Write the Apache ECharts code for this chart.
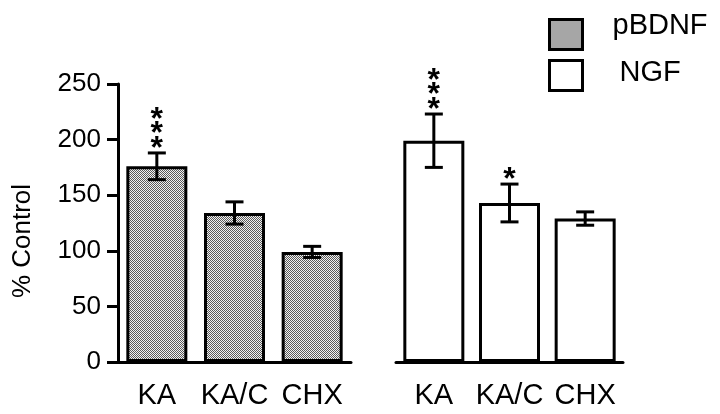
<!DOCTYPE html>
<html>
<head>
<meta charset="utf-8">
<script src="https://cdn.jsdelivr.net/npm/echarts@6/dist/echarts.min.js"></script>
<style>html,body{margin:0;padding:0;background:#fff;}#chart{width:720px;height:414px;}</style>
</head>
<body>
<div id="chart"></div>
<script>
const categories = ['KA', 'KA/C', 'CHX'];
const pbdnfValues = [176, 134, 99];
const pbdnfErrors = [12, 10, 5];
const ngfValues = [199, 143, 129];
const ngfErrors = [24, 17, 6];
const pbdnfStars = [3, 0, 0];
const ngfStars = [3, 1, 0];
const yMin = 0, yMax = 250, yStep = 50;

const FONT = "'Liberation Sans', Arial, Helvetica, sans-serif";

// stipple pattern
const pc = document.createElement('canvas');
pc.width = 2; pc.height = 2;
const pctx = pc.getContext('2d');
pctx.fillStyle = '#f2f2f2'; pctx.fillRect(0, 0, 2, 2);
pctx.fillStyle = '#5a5a5a'; pctx.fillRect(0, 0, 1, 1); pctx.fillRect(1, 1, 1, 1);
const stipple = { image: pc, repeat: 'repeat' };

function errData(vals, errs) { return vals.map((v, i) => [i, v - errs[i], v + errs[i]]); }
function starData(vals, errs, stars) { return vals.map((v, i) => [i, v + errs[i], stars[i]]); }

function renderErr(params, api) {
  const x = api.value(0);
  const lo = api.coord([x, api.value(1)]);
  const hi = api.coord([x, api.value(2)]);
  const h = 9;
  const st = { stroke: '#000', lineWidth: 3 };
  return { type: 'group', children: [
    { type: 'line', shape: { x1: lo[0], y1: lo[1], x2: hi[0], y2: hi[1] }, style: st },
    { type: 'line', shape: { x1: hi[0] - h, y1: hi[1], x2: hi[0] + h, y2: hi[1] }, style: st },
    { type: 'line', shape: { x1: lo[0] - h, y1: lo[1], x2: lo[0] + h, y2: lo[1] }, style: st }
  ]};
}
function renderStars(params, api) {
  const x = api.value(0);
  const p = api.coord([x, api.value(1)]);
  const n = api.value(2);
  const children = [];
  for (let k = 0; k < n; k++) {
    children.push({ type: 'text', x: p[0], y: p[1] - 11 - 14.5 * k + 7,
      style: { text: '*', font: 'bold 32px ' + FONT, align: 'center', verticalAlign: 'middle', fill: '#000' } });
  }
  return { type: 'group', children };
}

const xAxisBase = {
  type: 'category', data: categories, boundaryGap: true,
  axisLine: { lineStyle: { color: '#000', width: 3 } },
  axisTick: { alignWithLabel: true, length: 13, lineStyle: { color: '#000', width: 3 } },
  axisLabel: { color: '#000', fontSize: 29, fontFamily: FONT, margin: 19, interval: 0, hideOverlap: false }
};

const legendBase = {
  orient: 'vertical', left: 548, padding: 0, selectedMode: false,
  icon: 'rect', itemWidth: 33, itemHeight: 30,
  itemStyle: { borderColor: '#000', borderWidth: 3 }
};

const option = {
  animation: false,
  backgroundColor: '#fff',
  textStyle: { fontFamily: FONT },
  legend: [
    Object.assign({}, legendBase, { data: ['pBDNF'], top: 11, formatter: '{name}\n ',
      textStyle: { color: '#000', fontSize: 29, fontFamily: FONT, lineHeight: 18, padding: [0, 0, 0, 25] } }),
    Object.assign({}, legendBase, { data: ['NGF'], top: 58, formatter: '{name}\n ',
      textStyle: { color: '#000', fontSize: 29, fontFamily: FONT, lineHeight: 6, padding: [0, 0, 0, 32] } })
  ],
  grid: [
    { left: 118, right: 369, top: 84, bottom: 52 },
    { left: 396, right: 97, top: 84, bottom: 52 }
  ],
  xAxis: [
    Object.assign({ gridIndex: 0 }, xAxisBase),
    Object.assign({ gridIndex: 1 }, xAxisBase)
  ],
  yAxis: [
    { gridIndex: 0, type: 'value', min: yMin, max: yMax, interval: yStep,
      name: '% Control', nameLocation: 'middle', nameGap: 82,
      nameTextStyle: { color: '#000', fontSize: 26, fontFamily: FONT, padding: [0, 36, 0, 0] },
      axisLine: { show: true, lineStyle: { color: '#000', width: 3 } },
      axisTick: { show: true, length: 11, lineStyle: { color: '#000', width: 3 } },
      axisLabel: { color: '#000', fontSize: 26, fontFamily: FONT, margin: 17 },
      splitLine: { show: false } },
    { gridIndex: 1, type: 'value', min: yMin, max: yMax, interval: yStep, show: false, splitLine: { show: false } }
  ],
  series: [
    { name: 'pBDNF', type: 'bar', xAxisIndex: 0, yAxisIndex: 0, data: pbdnfValues, barWidth: 61,
      itemStyle: { color: stipple, borderColor: '#000', borderWidth: 3 } },
    { name: 'NGF', type: 'bar', xAxisIndex: 1, yAxisIndex: 1, data: ngfValues, barWidth: 61,
      itemStyle: { color: '#fff', borderColor: '#000', borderWidth: 3 } },
    { type: 'custom', xAxisIndex: 0, yAxisIndex: 0, data: errData(pbdnfValues, pbdnfErrors),
      encode: { x: 0, y: [1, 2] }, renderItem: renderErr, z: 5 },
    { type: 'custom', xAxisIndex: 1, yAxisIndex: 1, data: errData(ngfValues, ngfErrors),
      encode: { x: 0, y: [1, 2] }, renderItem: renderErr, z: 5 },
    { type: 'custom', xAxisIndex: 0, yAxisIndex: 0, data: starData(pbdnfValues, pbdnfErrors, pbdnfStars),
      encode: { x: 0, y: 1 }, renderItem: renderStars, z: 5 },
    { type: 'custom', xAxisIndex: 1, yAxisIndex: 1, data: starData(ngfValues, ngfErrors, ngfStars),
      encode: { x: 0, y: 1 }, renderItem: renderStars, z: 5 }
  ]
};

const chart = echarts.init(document.getElementById('chart'), null, { renderer: 'canvas' });
chart.setOption(option);
</script>
</body>
</html>
